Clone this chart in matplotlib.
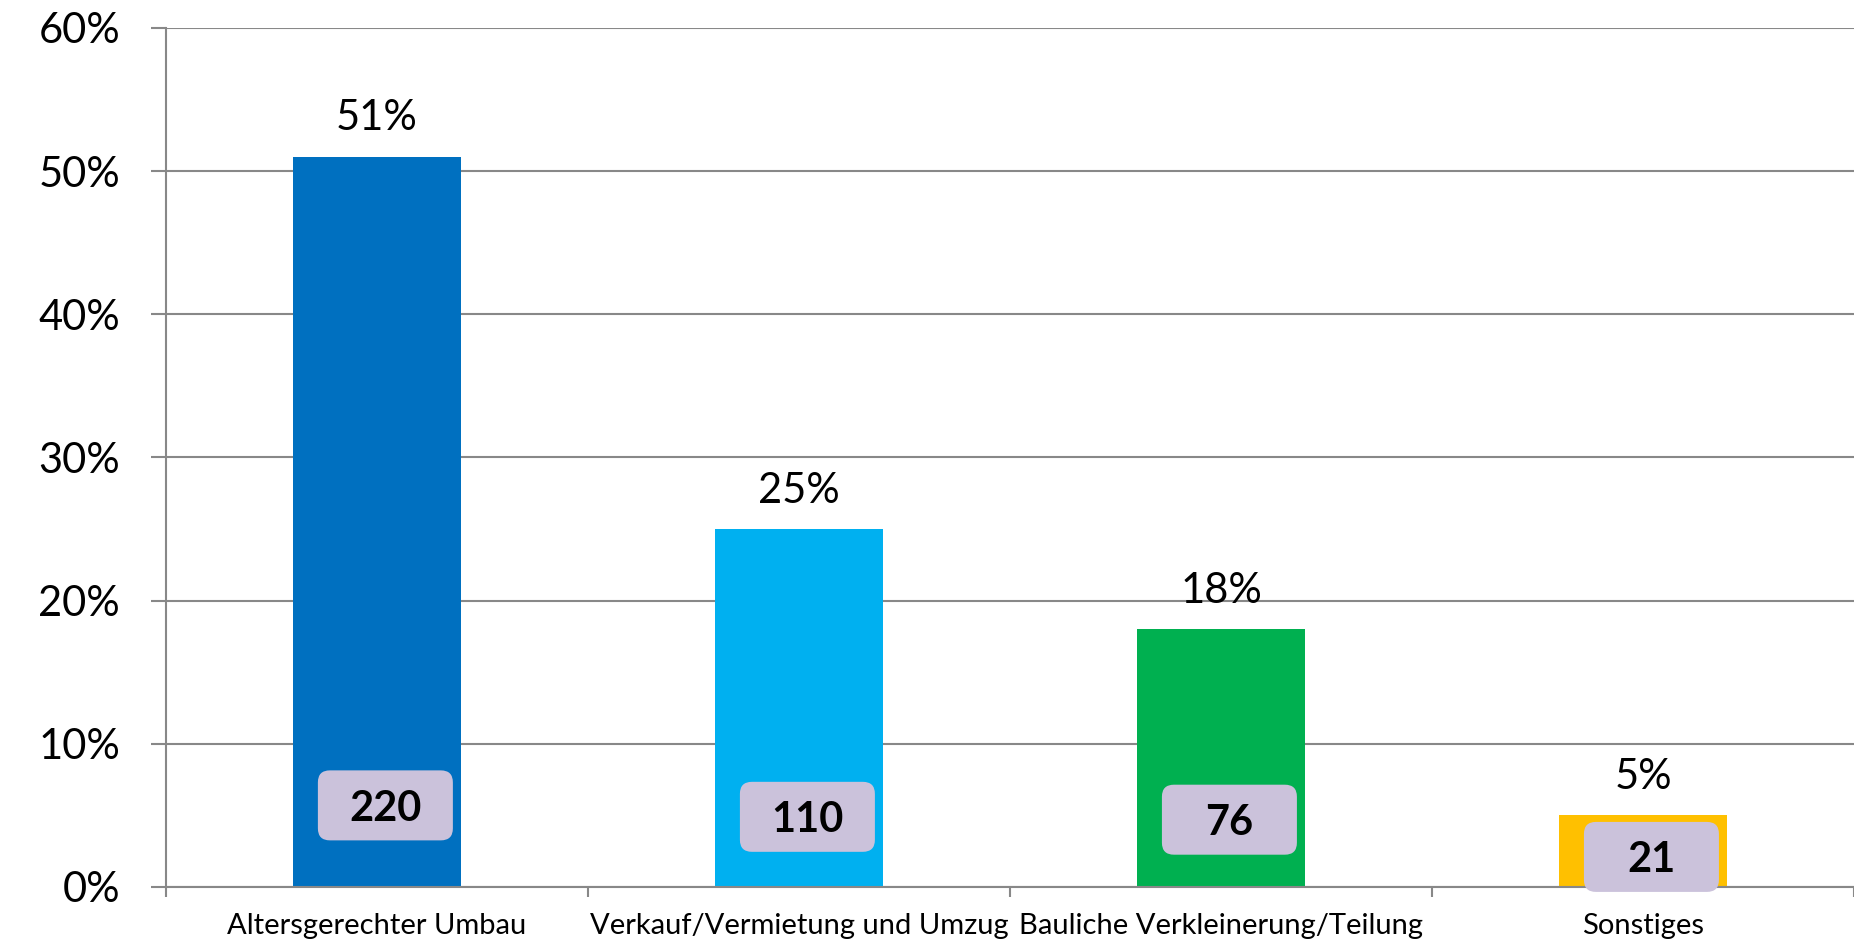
import matplotlib
matplotlib.use("Agg")
import matplotlib.pyplot as plt
from matplotlib.patches import FancyBboxPatch
from matplotlib.transforms import ScaledTranslation
from matplotlib.ticker import FuncFormatter

plt.rcParams['font.family'] = ['Lato', 'DejaVu Sans']

categories = ["Altersgerechter Umbau", "Verkauf/Vermietung und Umzug",
              "Bauliche Verkleinerung/Teilung", "Sonstiges"]
percent = [51, 25, 18, 5]
counts = [220, 110, 76, 21]
colors = ["#0070C0", "#00B0F0", "#00B050", "#FFC000"]

# where the count boxes sit (in % units)
count_y = [5.7, 4.9, 4.7, 2.1]
count_dx = 0.02

fig = plt.figure(figsize=(18.54, 9.44), dpi=100)
ax = fig.add_axes([0.0895, 0.0604, 0.9105, 0.91])

x = list(range(len(categories)))
ax.bar(x, percent, width=0.4, color=colors, zorder=2)

ax.set_xlim(-0.5, 3.5)
ax.set_ylim(0, 60)
ax.set_yticks(range(0, 61, 10))
ax.yaxis.set_major_formatter(FuncFormatter(lambda v, p: f"{v:.0f}%"))
ax.grid(axis="y", color="#888888", linewidth=1.5, zorder=0)

ax.set_xticks([i - 0.5 for i in range(5)])
ax.set_xticklabels([])
ax.set_xticks(x, minor=True)
ax.set_xticklabels(categories, minor=True, fontsize=21)
ax.tick_params(axis="x", which="minor", length=0, pad=19)
ax.tick_params(axis="x", which="major", length=7, width=1.5, color="#888888")
ax.tick_params(axis="y", length=11, width=1.5, color="#888888", labelsize=30, pad=22)

for s in ["top", "right"]:
    ax.spines[s].set_visible(False)
for s in ["left", "bottom"]:
    ax.spines[s].set_color("#888888")
    ax.spines[s].set_linewidth(1.5)

for i, p in enumerate(percent):
    ax.annotate(f"{p}%", (i, p), xytext=(0, 14), textcoords="offset points",
                ha="center", va="bottom", fontsize=30)

# rounded count boxes, fixed size in inches
bw, bh = 1.35, 0.70
for i, c in enumerate(counts):
    xc = i + count_dx
    trans = fig.dpi_scale_trans + ScaledTranslation(xc, count_y[i], ax.transData)
    box = FancyBboxPatch((-bw / 2, -bh / 2), bw, bh,
                         boxstyle="round,pad=0,rounding_size=0.12",
                         fc="#CBC2DB", ec="none", transform=trans,
                         zorder=4, clip_on=False)
    ax.add_patch(box)
    ax.text(xc, count_y[i], str(c), ha="center", va="center_baseline",
            fontsize=30, fontweight="bold", zorder=5, clip_on=False)

fig.savefig("out.png", dpi=100)
